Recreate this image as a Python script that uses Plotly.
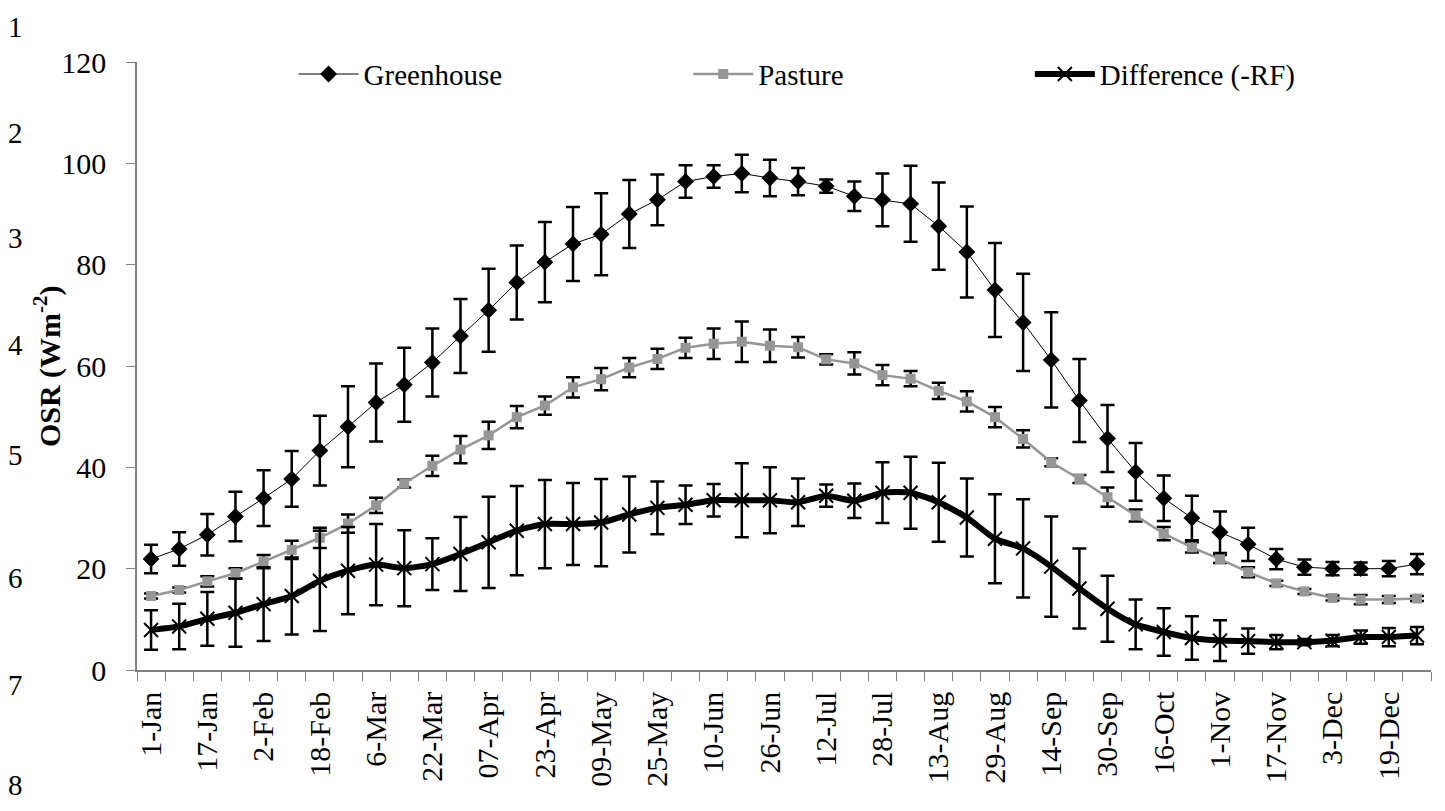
import plotly.graph_objects as go

dates = ["1-Jan", "9-Jan", "17-Jan", "25-Jan", "2-Feb", "10-Feb", "18-Feb", "26-Feb",
         "6-Mar", "14-Mar", "22-Mar", "30-Mar", "07-Apr", "15-Apr", "23-Apr", "01-May",
         "09-May", "17-May", "25-May", "02-Jun", "10-Jun", "18-Jun", "26-Jun", "04-Jul",
         "12-Jul", "20-Jul", "28-Jul", "05-Aug", "13-Aug", "21-Aug", "29-Aug", "06-Sep",
         "14-Sep", "22-Sep", "30-Sep", "8-Oct", "16-Oct", "24-Oct", "1-Nov", "9-Nov",
         "17-Nov", "25-Nov", "3-Dec", "11-Dec", "19-Dec", "27-Dec"]

greenhouse = [21.9, 23.9, 26.7, 30.3, 33.9, 37.7, 43.3, 48.0, 52.8, 56.3,
              60.7, 65.9, 71.0, 76.5, 80.5, 84.1, 86.0, 90.0, 92.8, 96.4,
              97.4, 98.0, 97.1, 96.4, 95.5, 93.5, 92.8, 92.0, 87.6, 82.5,
              75.0, 68.6, 61.2, 53.2, 45.7, 39.1, 33.9, 30.0, 27.2, 24.8,
              21.9, 20.3, 20.0, 20.0, 20.0, 20.9]
greenhouse_err = [2.8, 3.3, 4.1, 4.9, 5.5, 5.5, 6.9, 8.0, 7.7, 7.3,
                  6.7, 7.3, 8.2, 7.3, 7.9, 7.3, 8.1, 6.7, 5.0, 3.2,
                  2.2, 3.7, 3.6, 2.7, 1.3, 2.9, 5.2, 7.5, 8.6, 9.0,
                  9.3, 9.6, 9.4, 8.2, 6.6, 5.7, 4.5, 4.4, 4.1, 3.3,
                  2.0, 1.5, 1.3, 1.2, 1.5, 2.0]

pasture = [14.6, 15.8, 17.5, 19.1, 21.4, 23.7, 26.1, 28.9, 32.5, 36.8,
           40.3, 43.5, 46.3, 49.9, 52.2, 55.8, 57.4, 59.7, 61.4, 63.6,
           64.4, 64.8, 64.0, 63.7, 61.3, 60.5, 58.2, 57.5, 55.1, 53.0,
           49.9, 45.6, 41.0, 37.7, 34.1, 30.5, 26.9, 24.2, 21.9, 19.3,
           17.1, 15.5, 14.2, 13.9, 13.9, 14.1]
pasture_err = [0.5, 0.5, 1.0, 1.0, 1.3, 1.8, 2.0, 1.8, 1.5, 0.8,
               2.0, 2.7, 2.7, 2.2, 1.8, 2.0, 2.2, 1.9, 2.0, 2.0,
               3.0, 4.0, 3.2, 2.0, 1.0, 2.2, 2.0, 1.5, 1.6, 2.0,
               2.0, 1.7, 0.8, 0.8, 1.9, 1.2, 1.3, 1.0, 0.8, 1.0,
               0.5, 0.5, 0.5, 0.9, 0.7, 0.5]

difference = [7.9, 8.6, 10.1, 11.3, 13.0, 14.6, 17.6, 19.6, 20.8, 20.1,
              20.9, 22.9, 25.2, 27.5, 28.8, 28.8, 29.1, 30.7, 32.0, 32.6,
              33.5, 33.5, 33.5, 33.1, 34.4, 33.4, 35.0, 35.0, 33.1, 30.1,
              25.9, 24.0, 20.4, 16.1, 12.1, 9.0, 7.5, 6.3, 5.8, 5.7,
              5.5, 5.5, 5.8, 6.5, 6.5, 6.8]
difference_err = [3.9, 4.5, 5.3, 6.7, 7.3, 7.6, 9.9, 8.6, 8.0, 7.5,
                  5.1, 7.3, 9.0, 8.8, 8.7, 8.1, 8.6, 7.5, 5.2, 3.8,
                  3.2, 7.3, 6.5, 4.7, 2.2, 3.4, 6.0, 7.1, 7.8, 7.7,
                  8.8, 9.7, 9.9, 7.9, 6.5, 4.9, 4.7, 4.3, 4.0, 2.5,
                  1.4, 0.6, 1.1, 1.3, 1.8, 1.7]

tick_text = [d if i % 2 == 0 else "" for i, d in enumerate(dates)]

SERIF = "Liberation Serif"

fig = go.Figure()

err_style = dict(type="data", symmetric=True, color="black", thickness=2.5, width=7)

fig.add_trace(go.Scatter(
    x=dates, y=pasture, name="Pasture", mode="lines+markers",
    line=dict(color="#969696", width=2.5),
    marker=dict(symbol="square", size=10, color="#969696"),
    error_y=dict(array=pasture_err, **err_style),
    legend="legend2",
))
fig.add_trace(go.Scatter(
    x=dates, y=difference, name="Difference (-RF)", mode="lines+markers",
    line=dict(color="black", width=6, shape="spline", smoothing=0.6),
    marker=dict(symbol="x-thin-open", size=14, color="black",
                line=dict(color="black", width=2)),
    error_y=dict(array=difference_err, **err_style),
    legend="legend3",
))
fig.add_trace(go.Scatter(
    x=dates, y=greenhouse, name="Greenhouse", mode="lines+markers",
    line=dict(color="black", width=1),
    marker=dict(symbol="diamond", size=13, color="black"),
    error_y=dict(array=greenhouse_err, **err_style),
    legend="legend",
))

leg_common = dict(orientation="h", yanchor="middle", y=0.98, xanchor="left",
                  font=dict(family=SERIF, size=29, color="black"),
                  bgcolor="rgba(0,0,0,0)", itemwidth=60)

line_numbers = ["1", "2", "3", "4", "5", "6", "7", "8"]
line_number_y = [1.087, 0.883, 0.711, 0.535, 0.354, 0.151, -0.025, -0.219]
line_number_anchor = ["top", "middle", "middle", "middle", "middle", "middle", "middle", "bottom"]

annotations = [
    dict(text="<b>OSR (Wm<sup>-2</sup>)</b>", xref="paper", yref="paper",
         x=-0.0695, y=0.5, xanchor="center", yanchor="middle", textangle=-90,
         showarrow=False, font=dict(family=SERIF, size=30, color="black")),
]
for t, yy, anc in zip(line_numbers, line_number_y, line_number_anchor):
    annotations.append(dict(text=t, xref="paper", yref="paper", x=-0.101, y=yy,
                            xanchor="left", yanchor=anc, showarrow=False,
                            font=dict(family=SERIF, size=29, color="black")))

fig.update_layout(
    width=1429, height=795,
    margin=dict(l=129, r=6, t=54, b=133),
    paper_bgcolor="white", plot_bgcolor="white",
    font=dict(family=SERIF, size=29, color="black"),
    showlegend=True,
    legend=dict(x=0.121, **leg_common),
    legend2=dict(x=0.426, **leg_common),
    legend3=dict(x=0.69, **leg_common),
    annotations=annotations,
    xaxis=dict(
        type="category", categoryorder="array", categoryarray=dates,
        tickmode="array", tickvals=dates, ticktext=tick_text,
        tickson="boundaries", ticks="outside", ticklen=9, tickcolor="#808080",
        tickangle=-90, tickfont=dict(family=SERIF, size=30, color="black"),
        ticklabelstandoff=8,
        showline=True, linecolor="#808080", linewidth=1.5,
        showgrid=False, zeroline=False, range=[-0.5, 45.5],
    ),
    yaxis=dict(
        range=[0, 120], tickvals=[0, 20, 40, 60, 80, 100, 120],
        ticks="outside", ticklen=9, tickcolor="#808080",
        tickfont=dict(family=SERIF, size=30, color="black"),
        ticklabelstandoff=14,
        showline=True, linecolor="#808080", linewidth=1.5,
        showgrid=False, zeroline=False,
    ),
)

fig.write_html("out.html")
